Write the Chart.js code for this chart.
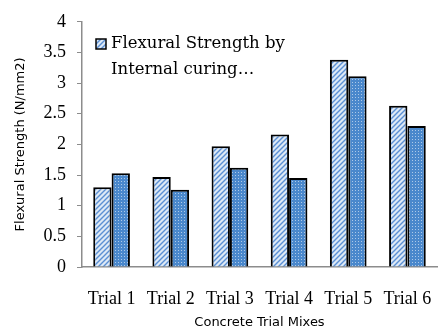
<!DOCTYPE html>
<html>
<head>
<meta charset="utf-8">
<script src="https://cdn.jsdelivr.net/npm/chart.js@4.4.1/dist/chart.umd.min.js"></script>
<style>
  html, body { margin: 0; padding: 0; background: #fff; }
  canvas { display: block; }
</style>
</head>
<body>
<canvas id="myChart" width="440" height="331"></canvas>
<script>
// datos
const categorias = ['Trial 1', 'Trial 2', 'Trial 3', 'Trial 4', 'Trial 5', 'Trial 6'];
const curadoInterno = [1.30, 1.47, 1.97, 2.16, 3.38, 2.63];
const curadoSegundo = [1.53, 1.26, 1.62, 1.45, 3.11, 2.30];
const ticksY = [0, 0.5, 1, 1.5, 2, 2.5, 3, 3.5, 4];
const leyendaTexto = ['Flexural Strength by', 'Internal curing…'];

const patronRayado = () => {
    const c = document.createElement('canvas');
    c.width = 5; c.height = 5;
    const g = c.getContext('2d');
    g.fillStyle = '#dde9f6';
    g.fillRect(0, 0, 5, 5);
    g.strokeStyle = '#5b8fd3';
    g.lineWidth = 1.4;
    g.beginPath();
    g.moveTo(-1, 6); g.lineTo(6, -1);
    g.moveTo(-1, 1); g.lineTo(1, -1);
    g.moveTo(4, 6); g.lineTo(6, 4);
    g.stroke();
    return g.createPattern(c, 'repeat');
}

const patronPuntos = () => {
    const c = document.createElement('canvas');
    c.width = 3; c.height = 3;
    const g = c.getContext('2d');
    g.fillStyle = '#4a88cc';
    g.fillRect(0, 0, 3, 3);
    g.fillStyle = 'rgba(255,255,255,0.55)';
    g.fillRect(1, 1, 1, 1);
    return g.createPattern(c, 'repeat');
}

const rayado = patronRayado();
const puntos = patronPuntos();

const leyendaPlugin = {
    id: 'leyendaManual',
    afterDraw(chart) {
        const ctx = chart.ctx;
        ctx.save();
        ctx.fillStyle = rayado;
        ctx.fillRect(96, 39, 10, 10);
        ctx.strokeStyle = '#000';
        ctx.lineWidth = 1.5;
        ctx.strokeRect(96, 39, 10, 10);
        ctx.fillStyle = '#000';
        ctx.font = '16.5px "DejaVu Serif"';
        ctx.textBaseline = 'alphabetic';
        leyendaTexto.forEach((t, i) => {
            ctx.fillText(t, 111, 48 + i * 26);
        });
        ctx.restore();
    }
};

const ctx = document.getElementById('myChart');

new Chart(ctx, {
    type: 'bar',
    data: {
        labels: categorias,
        datasets: [{
            label: 'Flexural Strength by Internal curing',
            data: curadoInterno,
            backgroundColor: rayado,
            borderColor: '#000',
            borderWidth: 2
        }, {
            label: 'Flexural Strength',
            data: curadoSegundo,
            backgroundColor: puntos,
            borderColor: '#000',
            borderWidth: 2
        }]
    },
    options: {
        responsive: false,
        animation: false,
        layout: { padding: { top: 19, right: 3, left: 0, bottom: 0 } },
        plugins: {
            legend: { display: false },
            tooltip: { enabled: false }
        },
        datasets: {
            bar: { categoryPercentage: 0.62, barPercentage: 1 }
        },
        scales: {
            x: {
                grid: { display: false },
                border: { display: true, color: '#8c8c8c', width: 1.5 },
                ticks: {
                    color: '#000',
                    padding: 13,
                    maxRotation: 0,
                    font: { family: '"Liberation Serif"', size: 18 }
                },
                title: {
                    display: true,
                    text: 'Concrete Trial Mixes',
                    color: '#000',
                    padding: { top: 0, bottom: 1 },
                    font: { family: '"DejaVu Sans"', size: 13 }
                },
                afterFit: (scale) => {
                    scale.height = 64;
                    scale.paddingLeft = 0;
                    scale.paddingRight = 0;
                }
            },
            y: {
                min: 0,
                max: 4,
                afterBuildTicks: (scale) => {
                    scale.ticks = ticksY.map(v => ({ value: v }));
                },
                grid: {
                    display: true,
                    drawOnChartArea: false,
                    drawTicks: true,
                    tickLength: 5,
                    color: '#8c8c8c'
                },
                border: { display: true, color: '#8c8c8c', width: 1.5 },
                ticks: {
                    color: '#000',
                    padding: 11,
                    callback: (v) => String(v),
                    font: { family: '"Liberation Serif"', size: 18 }
                },
                title: {
                    display: true,
                    text: 'Flexural Strength (N/mm2)',
                    color: '#000',
                    padding: { top: 13, bottom: 0 },
                    font: { family: '"DejaVu Sans"', size: 13 }
                },
                afterFit: (scale) => { scale.width = 82; }
            }
        }
    },
    plugins: [leyendaPlugin]
});
</script>
</body>
</html>
